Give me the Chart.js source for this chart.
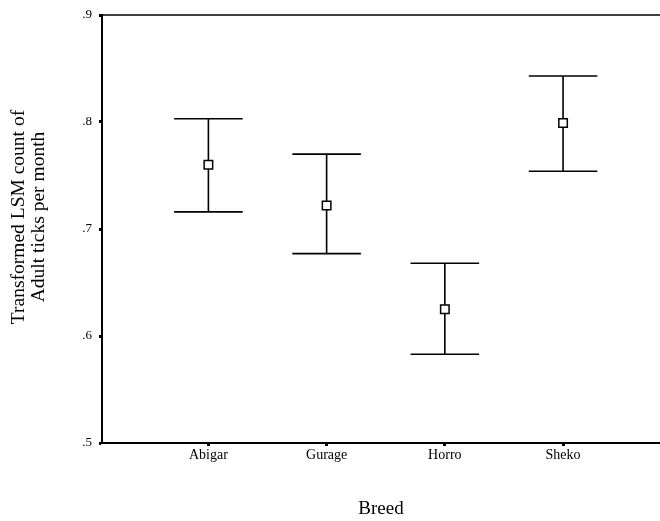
<!DOCTYPE html>
<html>
<head>
<meta charset="utf-8">
<script src="https://cdn.jsdelivr.net/npm/chart.js@4/dist/chart.umd.min.js"></script>
<style>
    html, body { margin: 0; padding: 0; background: #fff; }
    #wrap { width: 660px; height: 521px; }
</style>
</head>
<body>
<div id="wrap"><canvas id="breedCanvas"></canvas></div>
<script>
    // values
    const breeds = ["Abigar", "Gurage", "Horro", "Sheko"];
    const means = [0.760, 0.722, 0.625, 0.799];
    const lowerCI = [0.716, 0.677, 0.583, 0.754];
    const upperCI = [0.803, 0.770, 0.668, 0.843];
    const yTicks = [0.5, 0.6, 0.7, 0.8, 0.9];
    const yTitle = ["Transformed LSM count of", "Adult ticks per month"];

    const serif = "'Liberation Serif', 'DejaVu Serif', serif";

    // error bars, top frame line and the y title
    const errorBarPlugin = {
        id: "errorBars",
        afterDatasetsDraw: function (chart) {
            var ctx = chart.ctx;
            var xs = chart.scales.x;
            var ys = chart.scales.y;
            var area = chart.chartArea;
            ctx.save();
            ctx.strokeStyle = "#000";
            ctx.lineWidth = 1.5;
            ctx.beginPath();
            ctx.moveTo(area.left, area.top);
            ctx.lineTo(chart.width, area.top);
            ctx.stroke();

            ctx.lineWidth = 1.6;
            breeds.forEach(function (b, i) {
                var x = xs.getPixelForValue(i + 1);
                var xl = xs.getPixelForValue(i + 1 - 0.29);
                var xr = xs.getPixelForValue(i + 1 + 0.29);
                var yLo = ys.getPixelForValue(lowerCI[i]);
                var yHi = ys.getPixelForValue(upperCI[i]);
                var yM = ys.getPixelForValue(means[i]);
                ctx.beginPath();
                ctx.moveTo(xl, yHi); ctx.lineTo(xr, yHi);
                ctx.moveTo(xl, yLo); ctx.lineTo(xr, yLo);
                ctx.moveTo(x, yHi); ctx.lineTo(x, yM - 4.5);
                ctx.moveTo(x, yM + 4.5); ctx.lineTo(x, yLo);
                ctx.stroke();
            });

            // y axis title, a little above the middle like the original
            ctx.translate(29, 217);
            ctx.rotate(-Math.PI / 2);
            ctx.fillStyle = "#000";
            ctx.font = "19.5px " + serif;
            ctx.textAlign = "center";
            ctx.textBaseline = "middle";
            ctx.fillText(yTitle[0], 0, -10);
            ctx.fillText(yTitle[1], 0, 10);
            ctx.restore();
        }
    };

    new Chart(document.getElementById("breedCanvas"), {
        type: "scatter",
        data: {
            datasets: [{
                data: means.map(function (m, i) { return { x: i + 1, y: m }; }),
                pointStyle: "rect",
                pointRadius: 6,
                pointHoverRadius: 6,
                pointBorderWidth: 1.5,
                pointBorderColor: "#000",
                pointBackgroundColor: "#fff"
            }]
        },
        options: {
            responsive: true,
            maintainAspectRatio: false,
            animation: false,
            events: [],
            layout: { autoPadding: false, padding: { top: 15, right: 0, left: 0, bottom: 0 } },
            plugins: {
                legend: { display: false },
                tooltip: { enabled: false }
            },
            scales: {
                x: {
                    type: "linear",
                    min: 0.1,
                    max: 4.82,
                    afterBuildTicks: function (scale) {
                        scale.ticks = breeds.map(function (b, i) { return { value: i + 1 }; });
                    },
                    afterFit: function (scale) {
                        scale.height = 78;
                        scale.paddingLeft = 0;
                        scale.paddingRight = 0;
                    },
                    border: { display: true, color: "#000", width: 2 },
                    grid: { drawOnChartArea: false, drawTicks: true, tickLength: 3, tickWidth: 3, tickColor: "#000" },
                    ticks: {
                        color: "#000",
                        padding: 1,
                        maxRotation: 0,
                        font: { family: serif, size: 14 },
                        callback: function (v) { return breeds[Math.round(v) - 1] || ""; }
                    },
                    title: {
                        display: true,
                        text: "Breed",
                        color: "#000",
                        font: { family: serif, size: 19 },
                        padding: { top: 0, bottom: 1 }
                    }
                },
                y: {
                    min: 0.5,
                    max: 0.9,
                    afterBuildTicks: function (scale) {
                        scale.ticks = yTicks.map(function (v) { return { value: v }; });
                    },
                    afterFit: function (scale) { scale.width = 102; },
                    border: { display: true, color: "#000", width: 2 },
                    grid: { drawOnChartArea: false, drawTicks: true, tickLength: 3, tickWidth: 3, tickColor: "#000" },
                    ticks: {
                        color: "#000",
                        padding: 7,
                        font: { family: serif, size: 13 },
                        callback: function (v) { return String(v.toFixed(1)).replace(/^0/, ""); }
                    }
                }
            }
        },
        plugins: [errorBarPlugin]
    });
</script>
</body>
</html>
